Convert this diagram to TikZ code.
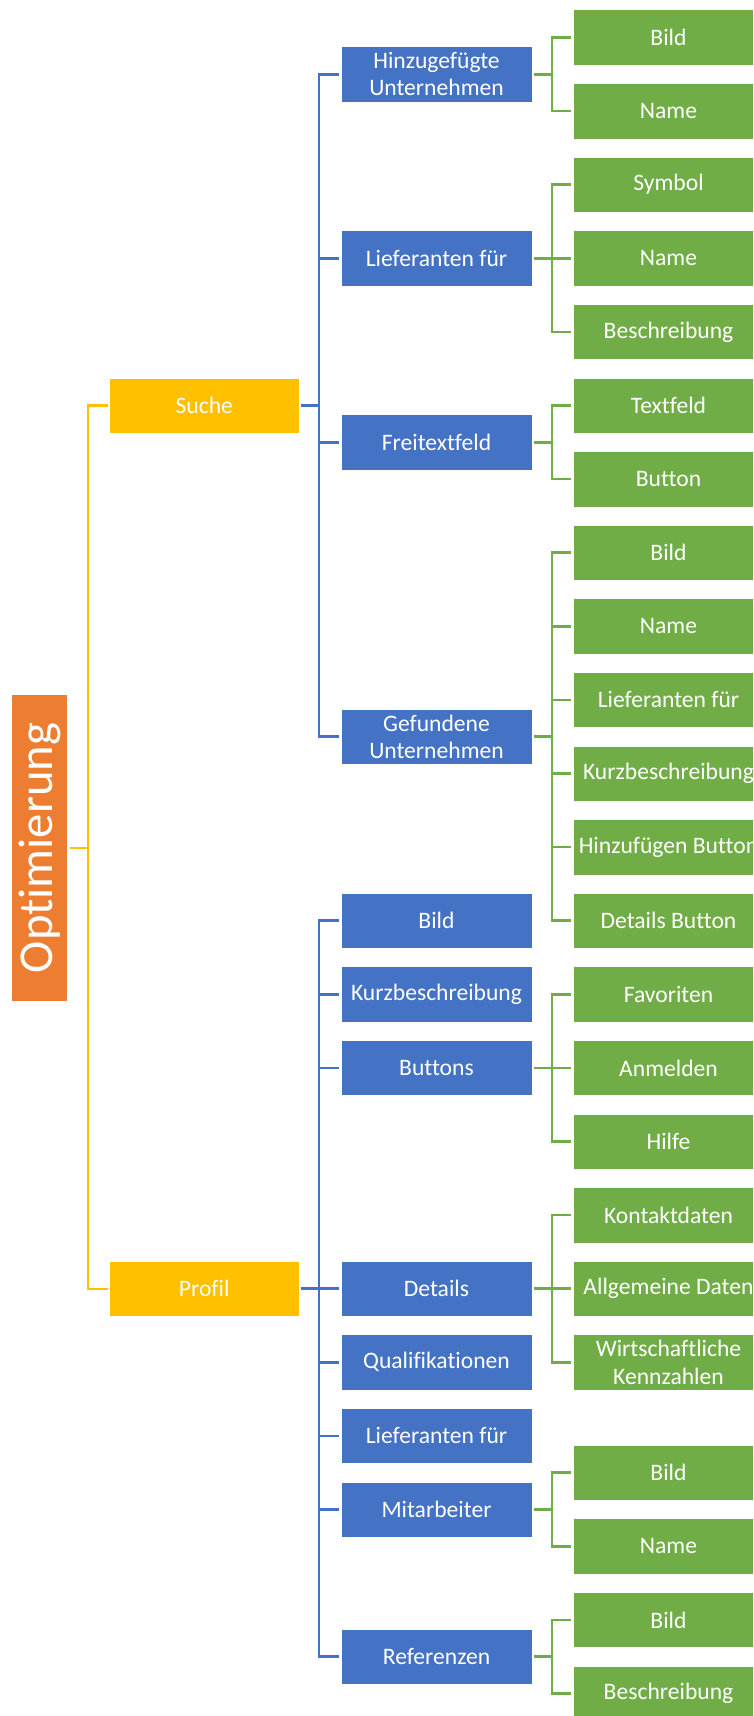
\documentclass[tikz,border=0pt]{standalone}
\usepackage{fontspec}
\setmainfont[Ligatures=NoCommon]{Carlito}
\definecolor{cOrange}{HTML}{ED7D31}
\definecolor{cYellow}{HTML}{FFC000}
\definecolor{cBlue}{HTML}{4472C4}
\definecolor{cGreen}{HTML}{70AD47}
\begin{document}
\begin{tikzpicture}[x=0.75pt,y=-0.75pt,
  box/.style={minimum width=143.25pt,minimum height=41.6pt,inner sep=0pt,
    outer sep=1.5pt,text=white,align=center,draw=white,line width=0.4pt,
    font=\fontsize{17.7}{20.5}\selectfont},
  rootbox/.style={box,fill=cOrange,minimum width=42pt,minimum height=230pt,
    font=\fontsize{36.5}{40}\selectfont},
  lvlone/.style={box,fill=cYellow,minimum width=142.1pt},
  lvltwo/.style={box,fill=cBlue},
  lvlthree/.style={box,fill=cGreen},
  yline/.style={draw=cYellow,line width=1.6pt},
  bline/.style={draw=cBlue,line width=1.9pt},
  gline/.style={draw=cGreen,line width=1.9pt}]
\useasboundingbox (0,0) rectangle (753,1716);
\clip (0,0) rectangle (753,1716);

% root and first level
\node[rootbox] (opt) at (39.7,848) {\rotatebox{90}{Optimierung}};
\node[lvlone] (suche) at (204.25,405.5) {Suche};
\node[lvlone] (profil) at (204.25,1288.7) {Profil};

% second level: Suche
\node[lvltwo] (hinz) at (436.5,74.3) {Hinzugefügte\\Unternehmen};
\node[lvltwo] (lief) at (436.5,258.3) {Lieferanten für};
\node[lvltwo] (frei) at (436.5,442.3) {Freitextfeld};
\node[lvltwo] (gef) at (436.5,736.7) {Gefundene\\Unternehmen};

% second level: Profil
\node[lvltwo] (pbild) at (436.5,920.7) {Bild};
\node[lvltwo] (pkurz) at (436.5,994.3) {Kurzbeschreibung};
\node[lvltwo] (pbut) at (436.5,1067.9) {Buttons};
\node[lvltwo] (pdet) at (436.5,1288.7) {Details};
\node[lvltwo] (pqual) at (436.5,1362.3) {Qualifikationen};
\node[lvltwo] (plief) at (436.5,1435.9) {Lieferanten für};
\node[lvltwo] (pmit) at (436.5,1509.5) {Mitarbeiter};
\node[lvltwo] (pref) at (436.5,1656.7) {Referenzen};

% third level
\node[lvlthree] (hA) at (668.5,37.5) {Bild};
\node[lvlthree] (hB) at (668.5,111.1) {Name};
\node[lvlthree] (lA) at (668.5,184.7) {Symbol};
\node[lvlthree] (lB) at (668.5,258.3) {Name};
\node[lvlthree] (lC) at (668.5,331.9) {Beschreibung};
\node[lvlthree] (fA) at (668.5,405.5) {Textfeld};
\node[lvlthree] (fB) at (668.5,479.1) {Button};
\node[lvlthree] (gA) at (668.5,552.7) {Bild};
\node[lvlthree] (gB) at (668.5,626.3) {Name};
\node[lvlthree] (gC) at (668.5,699.9) {Lieferanten für};
\node[lvlthree] (gD) at (668.5,773.5) {Kurzbeschreibung};
\node[lvlthree] (gE) at (668.5,847.1) {Hinzufügen Button};
\node[lvlthree] (gF) at (668.5,920.7) {Details Button};
\node[lvlthree] (bA) at (668.5,994.3) {Favoriten};
\node[lvlthree] (bB) at (668.5,1067.9) {Anmelden};
\node[lvlthree] (bC) at (668.5,1141.5) {Hilfe};
\node[lvlthree] (dA) at (668.5,1215.1) {Kontaktdaten};
\node[lvlthree] (dB) at (668.5,1288.7) {Allgemeine Daten};
\node[lvlthree] (dC) at (668.5,1362.3) {Wirtschaftliche\\Kennzahlen};
\node[lvlthree] (mA) at (668.5,1472.7) {Bild};
\node[lvlthree] (mB) at (668.5,1546.3) {Name};
\node[lvlthree] (rA) at (668.5,1619.9) {Bild};
\node[lvlthree] (rB) at (668.5,1693.5) {Beschreibung};

% elbow connectors
\foreach \c in {suche,profil}
  \draw[yline] (opt.east) -- ++(18,0) |- (\c.west);
\foreach \c in {hinz,lief,frei,gef}
  \draw[bline] (suche.east) -- ++(18,0) |- (\c.west);
\foreach \c in {pbild,pkurz,pbut,pdet,pqual,plief,pmit,pref}
  \draw[bline] (profil.east) -- ++(18,0) |- (\c.west);
\foreach \p/\c in {hinz/hA,hinz/hB,lief/lA,lief/lB,lief/lC,frei/fA,frei/fB,
    gef/gA,gef/gB,gef/gC,gef/gD,gef/gE,gef/gF,pbut/bA,pbut/bB,pbut/bC,
    pdet/dA,pdet/dB,pdet/dC,pmit/mA,pmit/mB,pref/rA,pref/rB}
  \draw[gline] (\p.east) -- ++(18,0) |- (\c.west);
\end{tikzpicture}
\end{document}
